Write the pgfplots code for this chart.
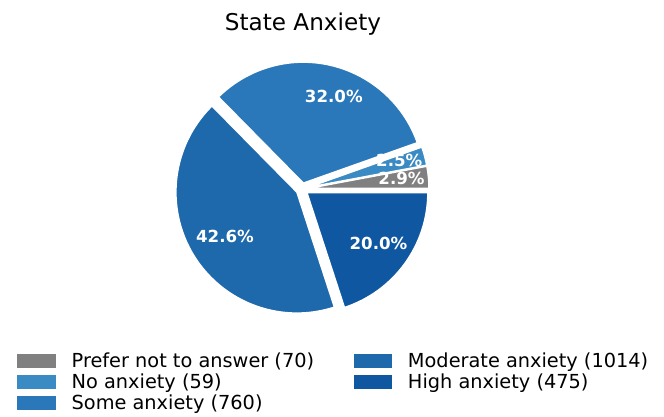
\documentclass[border=0pt]{standalone}
\usepackage{pgfplots}
\usepackage{pgfplotstable}
\pgfplotsset{compat=1.18}
\usepackage{fontspec}
\setmainfont{DejaVu Sans}

\definecolor{cPrefer}{HTML}{808080}
\definecolor{cNo}{HTML}{3A8AC4}
\definecolor{cSome}{HTML}{2A78B9}
\definecolor{cModerate}{HTML}{1E68AC}
\definecolor{cHigh}{HTML}{0F57A0}

% counts per answer, in pie order
\pgfplotstableread{
n
70
59
760
1014
475
}\anxdata

\begin{document}
\begin{tikzpicture}
% angles of the wedges from the counts
\pgfplotstablegetelem{0}{n}\of\anxdata \let\nA\pgfplotsretval
\pgfplotstablegetelem{1}{n}\of\anxdata \let\nB\pgfplotsretval
\pgfplotstablegetelem{2}{n}\of\anxdata \let\nC\pgfplotsretval
\pgfplotstablegetelem{3}{n}\of\anxdata \let\nD\pgfplotsretval
\pgfplotstablegetelem{4}{n}\of\anxdata \let\nE\pgfplotsretval
\pgfmathsetmacro\tot{\nA+\nB+\nC+\nD+\nE}
\pgfmathsetmacro\aA{0}
\pgfmathsetmacro\aB{\aA+360*(\nA/\tot)}
\pgfmathsetmacro\aC{\aB+360*(\nB/\tot)}
\pgfmathsetmacro\aD{\aC+360*(\nC/\tot)}
\pgfmathsetmacro\aE{\aD+360*(\nD/\tot)}
\pgfmathsetmacro\aF{360}
% pie centre (302,-189), radius 121, every wedge pushed out by 6
\def\cx{302}\def\cy{-189}\def\r{121bp}\def\ex{6}
\pgfmathsetmacro\xA{\cx+\ex*cos((\aA+\aB)/2)}\pgfmathsetmacro\yA{\cy+\ex*sin((\aA+\aB)/2)}
\pgfmathsetmacro\xB{\cx+\ex*cos((\aB+\aC)/2)}\pgfmathsetmacro\yB{\cy+\ex*sin((\aB+\aC)/2)}
\pgfmathsetmacro\xC{\cx+\ex*cos((\aC+\aD)/2)}\pgfmathsetmacro\yC{\cy+\ex*sin((\aC+\aD)/2)}
\pgfmathsetmacro\xD{\cx+\ex*cos((\aD+\aE)/2)}\pgfmathsetmacro\yD{\cy+\ex*sin((\aD+\aE)/2)}
\pgfmathsetmacro\xE{\cx+\ex*cos((\aE+\aF)/2)}\pgfmathsetmacro\yE{\cy+\ex*sin((\aE+\aF)/2)}

\begin{axis}[
    scale only axis,
    width=664bp, height=417bp,
    xmin=0, xmax=664, ymin=-417, ymax=0,
    hide axis, clip=false,
    legend columns=2,
    legend cell align=left,
    legend image code/.code={\fill[#1, draw=none] (0bp,-6.85bp) rectangle (38.4bp,6.85bp);},
    legend style={
        at={(0.02605,0.1561)}, anchor=north west,
        draw=none, fill=none, inner sep=0pt, outer sep=0pt,
        font=\fontsize{19.4}{22}\selectfont,
        row sep=3bp, column sep=16bp,
        nodes={inner sep=0pt, outer sep=0pt, text height=16bp, text depth=2bp},
        /tikz/every even column/.append style={column sep=39.4bp},
    },
]
\path (rel axis cs:0,0) rectangle (rel axis cs:1,1);

\addlegendimage{fill=cPrefer}
\addlegendentry{Prefer not to answer (70)}
\addlegendimage{fill=cModerate}
\addlegendentry{Moderate anxiety (1014)}
\addlegendimage{fill=cNo}
\addlegendentry{No anxiety (59)}
\addlegendimage{fill=cHigh}
\addlegendentry{High anxiety (475)}
\addlegendimage{fill=cSome}
\addlegendentry{Some anxiety (760)}

\fill[cPrefer, draw=white, line width=1.5bp] (axis cs:\xA,\yA) -- ++(\aA:\r) arc[start angle=\aA, end angle=\aB, radius=\r] -- cycle;
\fill[cNo, draw=white, line width=1.5bp] (axis cs:\xB,\yB) -- ++(\aB:\r) arc[start angle=\aB, end angle=\aC, radius=\r] -- cycle;
\fill[cSome, draw=white, line width=1.5bp] (axis cs:\xC,\yC) -- ++(\aC:\r) arc[start angle=\aC, end angle=\aD, radius=\r] -- cycle;
\fill[cModerate, draw=white, line width=1.5bp] (axis cs:\xD,\yD) -- ++(\aD:\r) arc[start angle=\aD, end angle=\aE, radius=\r] -- cycle;
\fill[cHigh, draw=white, line width=1.5bp] (axis cs:\xE,\yE) -- ++(\aE:\r) arc[start angle=\aE, end angle=\aF, radius=\r] -- cycle;

\begin{scope}[every node/.style={text=white, inner sep=0pt, font=\fontsize{16.7}{20}\selectfont\bfseries}]
\node at (axis cs:401.5,-178.7) {2.9\%};
\node at (axis cs:399.3,-160.3) {2.5\%};
\node at (axis cs:333.8,-96.7) {32.0\%};
\node at (axis cs:225,-236) {42.6\%};
\node at (axis cs:378.5,-243.7) {20.0\%};
\end{scope}

\node[anchor=base, inner sep=0pt, font=\fontsize{23.2}{27}\selectfont] at (axis cs:303,-30.7) {State Anxiety};
\end{axis}
\end{tikzpicture}
\end{document}
